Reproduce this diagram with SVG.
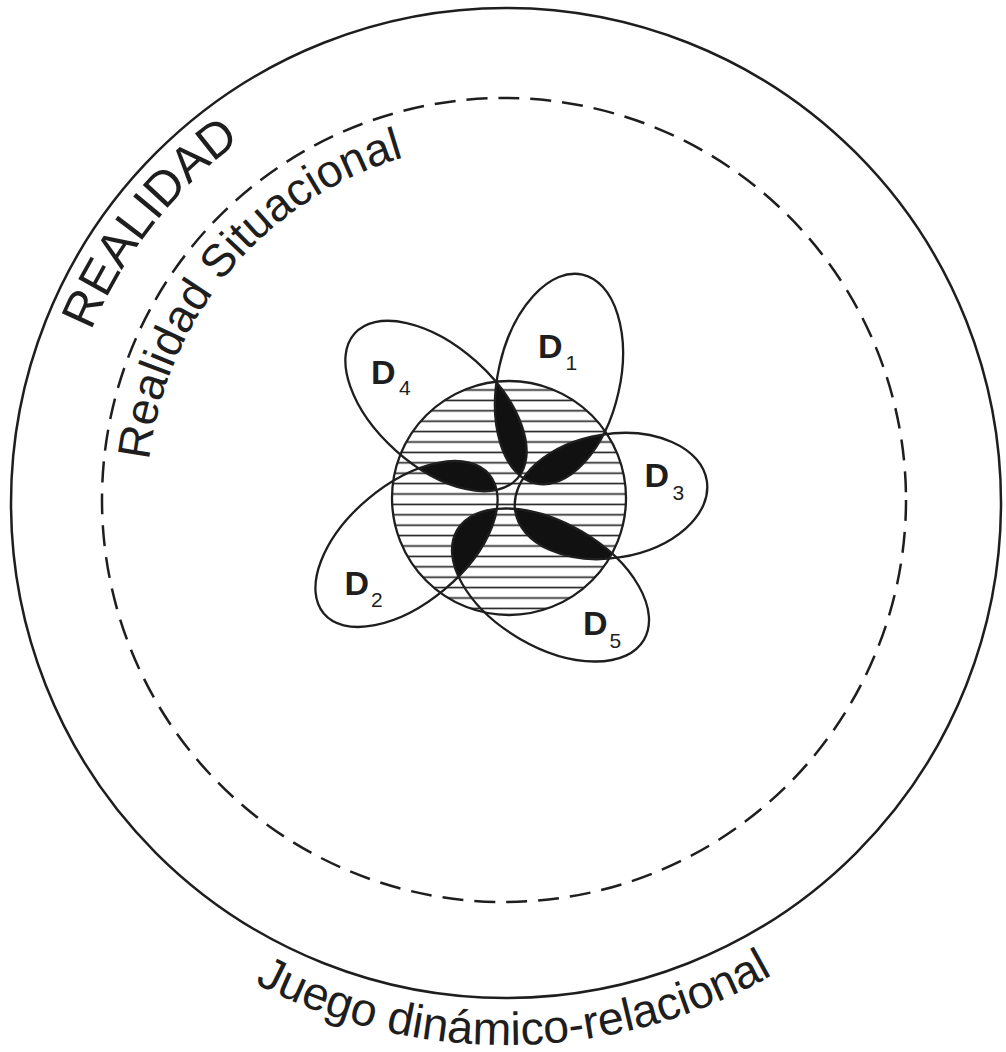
<svg xmlns="http://www.w3.org/2000/svg" xmlns:xlink="http://www.w3.org/1999/xlink" width="1006" height="1052" viewBox="0 0 1006 1052">
<style>
.ln{fill:none;stroke:#1e1e1e;stroke-width:2.5}
.el{fill:none;stroke:#1e1e1e;stroke-width:2.3}
.lens{fill:#111}
.t{font-family:"Liberation Sans",Arial,sans-serif;fill:#1e1e1e}
.dl{font-family:"Liberation Sans",Arial,sans-serif;font-weight:bold;font-size:34px;fill:#1e1e1e}
.sub{font-weight:normal;font-size:21px}
</style>
<defs>
<pattern id="hatch" patternUnits="userSpaceOnUse" width="20" height="10.4">
<rect width="20" height="10.4" fill="#fff"/>
<line x1="0" y1="5.2" x2="20" y2="5.2" stroke="#1e1e1e" stroke-width="1.6"/>
</pattern>
<circle id="core" cx="509" cy="498" r="117"/>
<ellipse id="e1" cx="0" cy="0" rx="107" ry="61" transform="translate(559 379) rotate(-77.35)"/>
<ellipse id="e3" cx="0" cy="0" rx="97" ry="62" transform="translate(611 496) rotate(-9)"/>
<ellipse id="e5" cx="0" cy="0" rx="108.3" ry="61.9" transform="translate(550.5 585) rotate(30.4)"/>
<ellipse id="e2" cx="0" cy="0" rx="108" ry="59.3" transform="translate(406.5 544) rotate(-40)"/>
<ellipse id="e4" cx="0" cy="0" rx="109" ry="60" transform="translate(436 406) rotate(41.7)"/>
<clipPath id="cCore"><use xlink:href="#core"/></clipPath>
<clipPath id="c1"><use xlink:href="#e1"/></clipPath>
<clipPath id="c3"><use xlink:href="#e3"/></clipPath>
<clipPath id="c5"><use xlink:href="#e5"/></clipPath>
<clipPath id="c2"><use xlink:href="#e2"/></clipPath>
<clipPath id="c4"><use xlink:href="#e4"/></clipPath>
<path id="pReal" d="M506,952 A449,449 0 0 1 506,54 A449,449 0 0 1 506,952"/>
<path id="pSit" d="M504,857 A357,357 0 0 1 504,143 A357,357 0 0 1 504,857"/>
<path id="pJue" d="M-36,503 A542,542 0 0 0 1048,503"/>
</defs>
<rect width="1006" height="1052" fill="#fff"/>

<g id="realidad">
<circle class="ln" cx="506" cy="503" r="495"/>
<text class="t" font-size="49"><textPath xlink:href="#pReal" startOffset="1004" text-anchor="middle">REALIDAD</textPath></text>
<text class="t" font-size="46.5"><textPath xlink:href="#pJue" startOffset="860" text-anchor="middle">Juego dinámico-relacional</textPath></text>
</g>

<g id="realidad-situacional">
<circle class="ln" cx="504" cy="500" r="402" stroke-dasharray="21 11"/>
<text class="t" font-size="46"><textPath xlink:href="#pSit" startOffset="810" text-anchor="middle">Realidad Situacional</textPath></text>
</g>

<g id="nucleo">
<use xlink:href="#core" fill="url(#hatch)"/>
</g>

<g id="intersecciones" clip-path="url(#cCore)">
<g clip-path="url(#c1)"><use xlink:href="#e4" class="lens"/></g>
<g clip-path="url(#c3)"><use xlink:href="#e1" class="lens"/></g>
<g clip-path="url(#c5)"><use xlink:href="#e3" class="lens"/></g>
<g clip-path="url(#c2)"><use xlink:href="#e5" class="lens"/></g>
<g clip-path="url(#c4)"><use xlink:href="#e2" class="lens"/></g>
</g>

<g id="nucleo-borde"><use xlink:href="#core" class="el"/></g>

<g id="D1"><use xlink:href="#e1" class="el"/><text class="dl" x="538" y="358">D<tspan class="sub" x="565.5" y="370">1</tspan></text></g>
<g id="D3"><use xlink:href="#e3" class="el"/><text class="dl" x="644.5" y="486.5">D<tspan class="sub" x="672.5" y="500">3</tspan></text></g>
<g id="D5"><use xlink:href="#e5" class="el"/><text class="dl" x="583" y="635">D<tspan class="sub" x="609.5" y="648">5</tspan></text></g>
<g id="D2"><use xlink:href="#e2" class="el"/><text class="dl" x="344.5" y="595">D<tspan class="sub" x="371" y="606.5">2</tspan></text></g>
<g id="D4"><use xlink:href="#e4" class="el"/><text class="dl" x="371" y="383.5">D<tspan class="sub" x="399" y="395">4</tspan></text></g>
</svg>
